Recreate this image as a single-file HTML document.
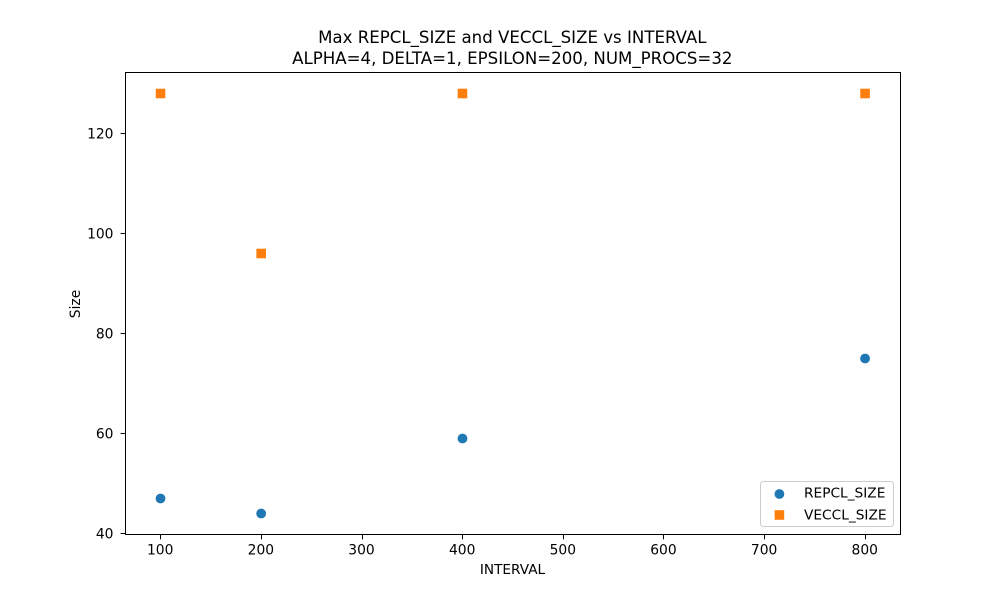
<!DOCTYPE html>
<html>
<head>
<meta charset="utf-8">
<title>Max REPCL_SIZE and VECCL_SIZE vs INTERVAL</title>
<style>
html,body{margin:0;padding:0;background:#fff;}
svg{display:block;}
text{font-family:"DejaVu Sans",sans-serif;fill:#000;}
</style>
</head>
<body>
<svg id="chart" width="1000" height="600" viewBox="0 0 1000 600" xmlns="http://www.w3.org/2000/svg"></svg>
<script>
const intervals = [100, 200, 400, 800];
const repclSize = [47, 44, 59, 75];
const vecclSize = [128, 96, 128, 128];
const xTickLabels = [100, 200, 300, 400, 500, 600, 700, 800];
const yTickLabels = [40, 60, 80, 100, 120];

const svg = document.getElementById('chart');
const NS = 'http://www.w3.org/2000/svg';
const plotL = 125, plotR = 900, plotT = 72, plotB = 534;

function make(tag, attrs, text) {
  const el = document.createElementNS(NS, tag);
  for (const k in attrs) el.setAttribute(k, attrs[k]);
  if (text !== undefined) el.textContent = text;
  svg.appendChild(el);
  return el;
}

const allX = intervals;
const allY = repclSize.concat(vecclSize);
const xMin = Math.min(...allX), xMax = Math.max(...allX);
const yMin = Math.min(...allY), yMax = Math.max(...allY);
const xPad = (xMax - xMin) * 0.05, yPad = (yMax - yMin) * 0.05;
function xScale(v) { return plotL + (v - (xMin - xPad)) / ((xMax + xPad) - (xMin - xPad)) * (plotR - plotL); }
function yScale(v) { return plotB - (v - (yMin - yPad)) / ((yMax + yPad) - (yMin - yPad)) * (plotB - plotT); }
function snap(p) { return Math.round(p) + 0.5; }

xTickLabels.forEach(function (t) {
  const x = xScale(t);
  const tick = make('line', {x1: snap(x), x2: snap(x), y1: plotB + 0.5, y2: plotB + 5.4, stroke: '#000', 'stroke-width': 1});
  
  
  const label = make('text', {x: x, y: plotB + 20.5, 'text-anchor': 'middle', 'font-size': 13.85}, String(t));
  
  
});

yTickLabels.forEach(function (t) {
  const y = yScale(t);
  const tick = make('line', {x1: plotL - 4.4, x2: plotL + 0.5, y1: snap(y), y2: snap(y), stroke: '#000', 'stroke-width': 1});
  
  
  const label = make('text', {x: plotL - 11.5, y: y + 5.3, 'text-anchor': 'end', 'font-size': 13.85}, String(t));
  
  
});

intervals.forEach(function (v, i) {
  const pt = make('circle', {cx: xScale(v) + 0.3, cy: yScale(repclSize[i]) + 0.5, r: 4.9, fill: '#1f77b4'});
  
  
});

intervals.forEach(function (v, i) {
  const pt = make('rect', {x: xScale(v) + 0.3 - 4.8, y: yScale(vecclSize[i]) + 0.5 - 4.8, width: 9.6, height: 9.6, fill: '#ff7f0e'});
  
  
});

const frame = make('rect', {x: plotL + 0.5, y: plotT + 0.5, width: plotR - plotL, height: plotB - plotT, fill: 'none', stroke: '#000', 'stroke-width': 1});



const legendBox = make('rect', {x: 760.5, y: 481.5, width: 133, height: 45, rx: 3, ry: 3, fill: '#fff', 'fill-opacity': 0.8, stroke: '#ccc', 'stroke-width': 1});



const legendDot = make('circle', {cx: 779.4, cy: 494, r: 4.9, fill: '#1f77b4'});



const legendSquare = make('rect', {x: 774.6, y: 510.2, width: 9.6, height: 9.6, fill: '#ff7f0e'});



const legendText1 = make('text', {x: 804, y: 497.5, 'font-size': 13.72}, 'REPCL_SIZE');



const legendText2 = make('text', {x: 804, y: 519.5, 'font-size': 13.72}, 'VECCL_SIZE');



const title1 = make('text', {x: 512.3, y: 43, 'text-anchor': 'middle', 'font-size': 16.63}, 'Max REPCL_SIZE and VECCL_SIZE vs INTERVAL');



const title2 = make('text', {x: 512.3, y: 64, 'text-anchor': 'middle', 'font-size': 16.63}, 'ALPHA=4, DELTA=1, EPSILON=200, NUM_PROCS=32');



const xTitle = make('text', {x: 512.5, y: 574, 'text-anchor': 'middle', 'font-size': 13.65}, 'INTERVAL');



const yTitle = make('text', {x: 0, y: 0, 'text-anchor': 'middle', 'font-size': 13.9, transform: 'translate(80,304) rotate(-90)'}, 'Size');


</script>
</body>
</html>
